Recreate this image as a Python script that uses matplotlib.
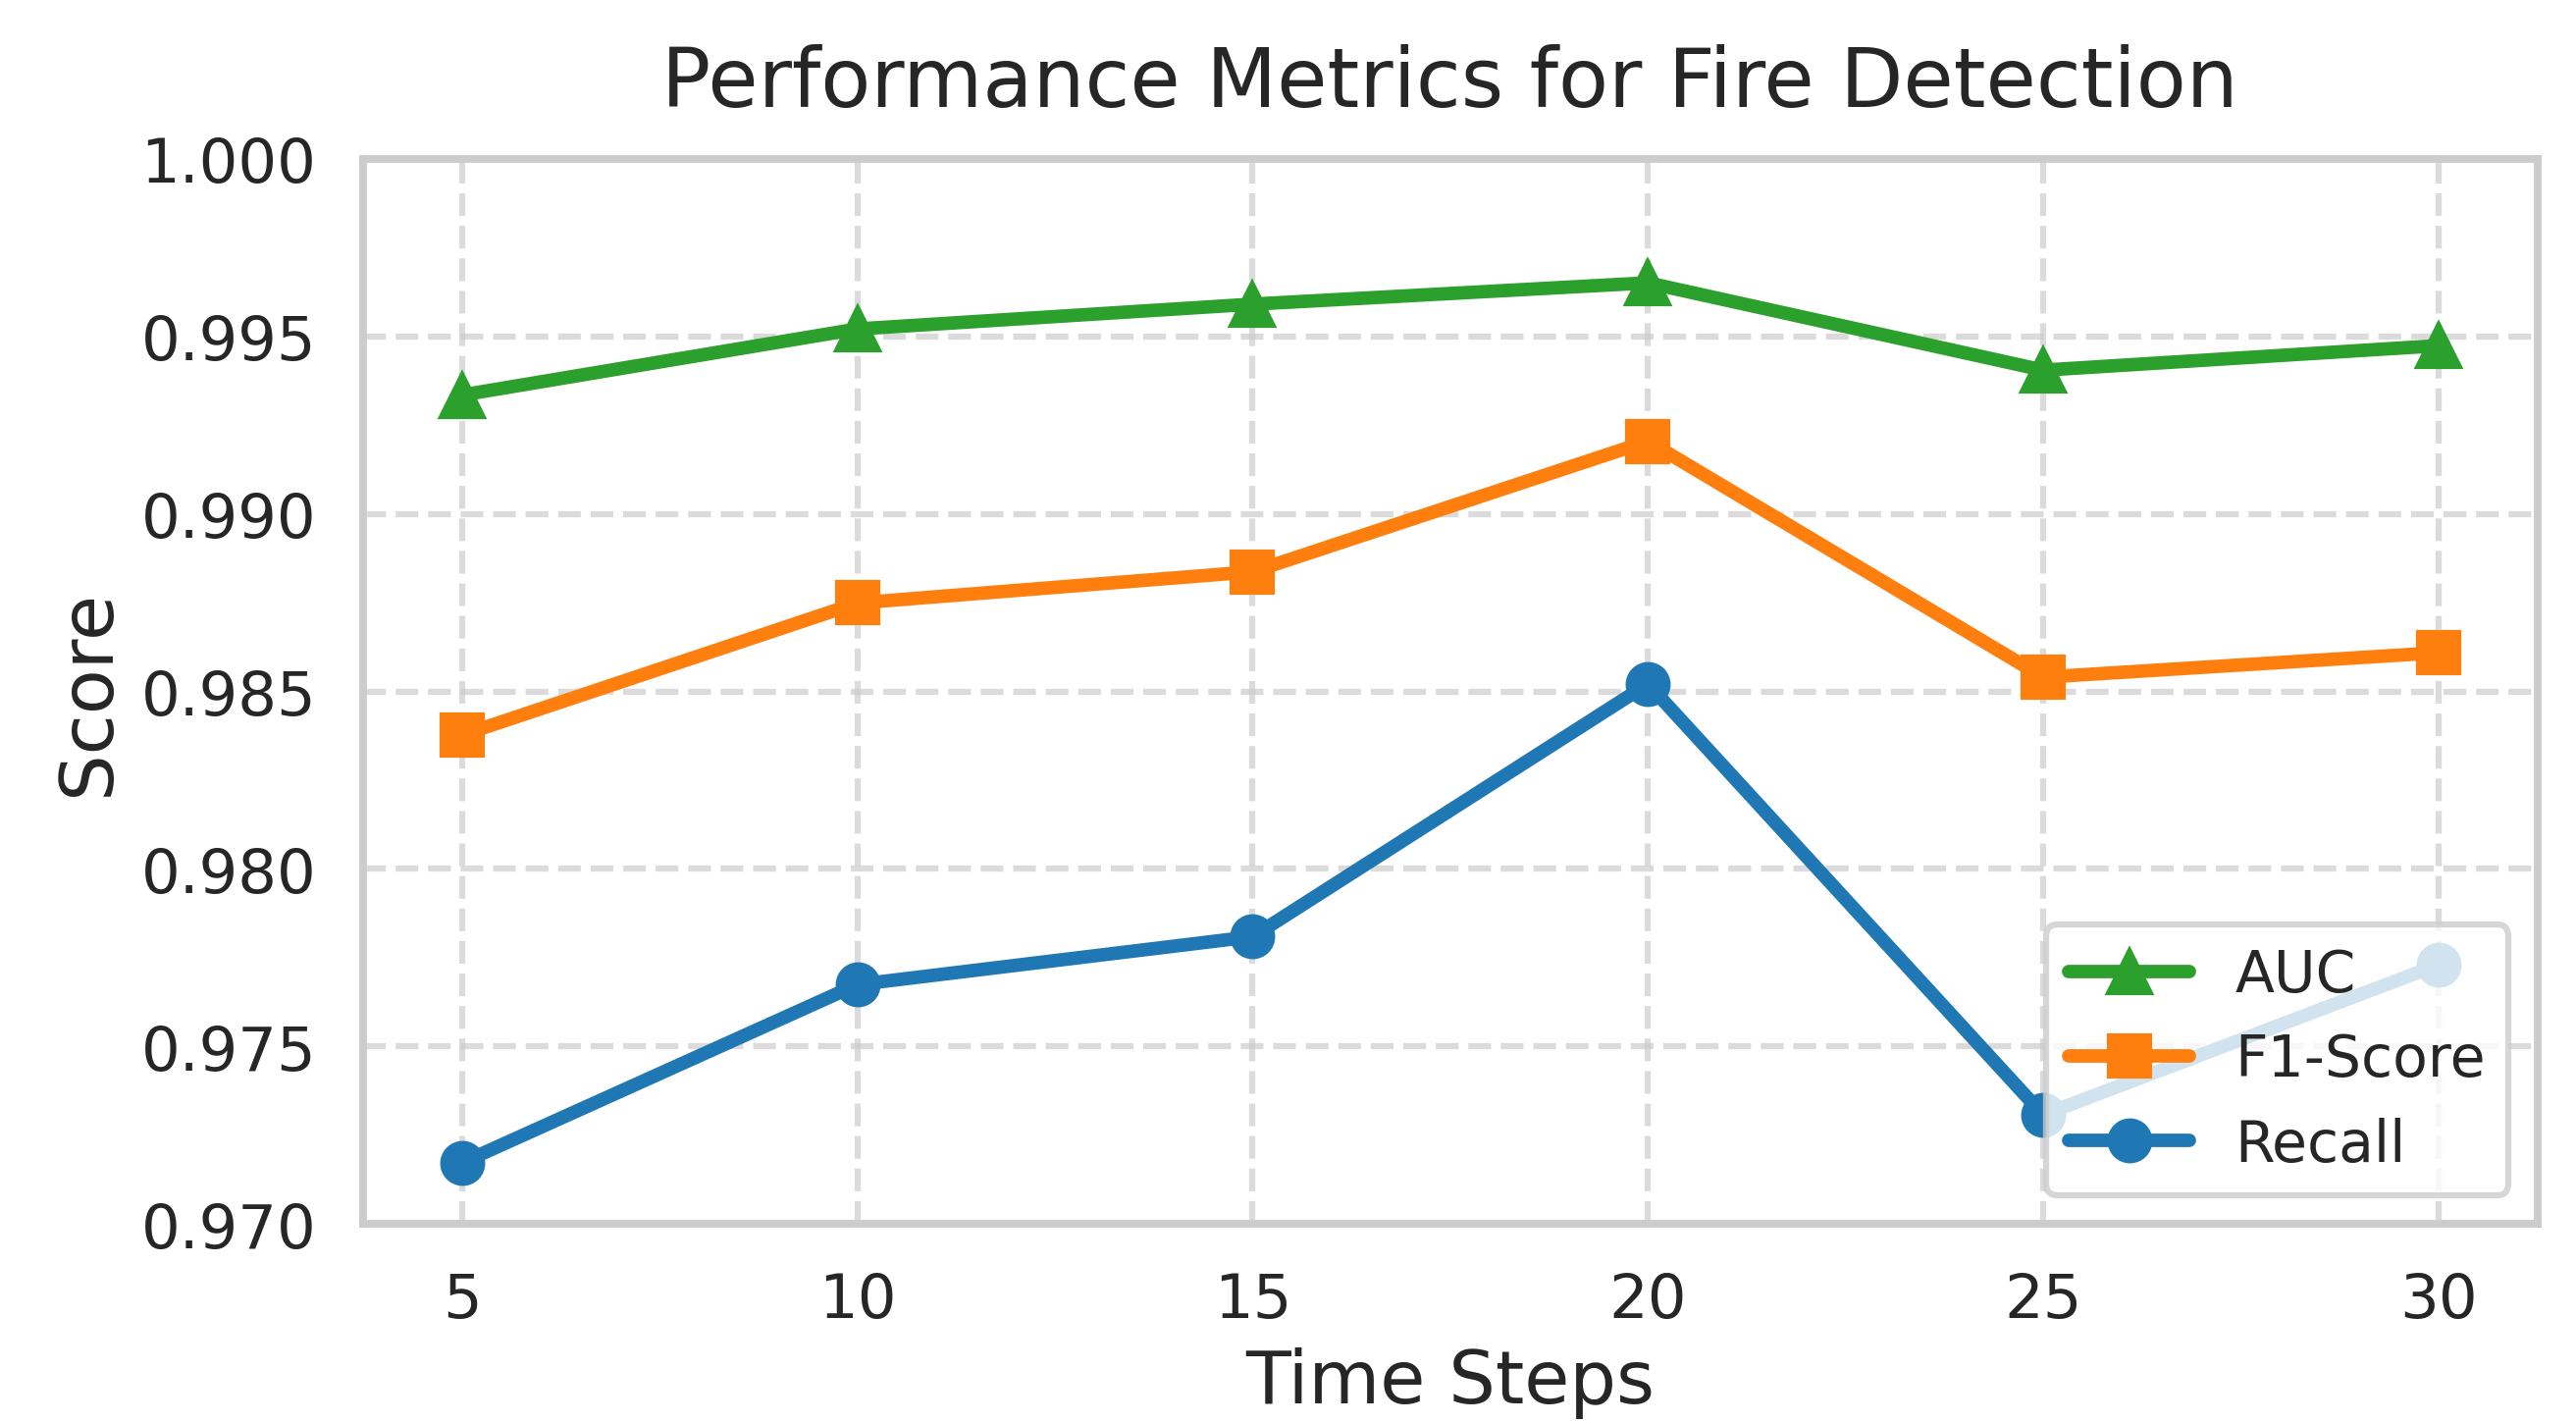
import matplotlib
matplotlib.use("Agg")
import matplotlib.pyplot as plt
import seaborn as sns

time_steps = [5, 10, 15, 20, 25, 30]
auc = [0.99335, 0.99521, 0.99591, 0.99651, 0.99405, 0.99474]
f1 = [0.98377, 0.98749, 0.98837, 0.99205, 0.98540, 0.98609]
recall = [0.97172, 0.97674, 0.97809, 0.98521, 0.97307, 0.97730]
yticks = [0.970, 0.975, 0.980, 0.985, 0.990, 0.995, 1.000]

sns.set_theme(style="whitegrid", context="talk")
plt.rcParams['font.family'] = ['DejaVu Sans']

fig = plt.figure(figsize=(8.75, 4.8333), dpi=300)
ax = fig.add_axes([0.141, 0.1393, 0.844, 0.7483])

ax.plot(time_steps, auc, marker='^', color='#2ca02c', lw=3.3, ms=10.5, label='AUC')
ax.plot(time_steps, f1, marker='s', color='#ff7f0e', lw=3.3, ms=10, label='F1-Score')
ax.plot(time_steps, recall, marker='o', color='#1f77b4', lw=3.3, ms=10, label='Recall')

ax.set_ylim(0.970, 1.000)
ax.set_yticks(yticks)
ax.set_yticklabels([f"{v:.3f}" for v in yticks])
ax.set_xticks(time_steps)
ax.tick_params(labelsize=15, pad=2.5)
ax.grid(True, linestyle='--', alpha=0.7)
ax.set_title('Performance Metrics for Fire Detection', fontsize=20, pad=13)
ax.set_xlabel('Time Steps', fontsize=18, labelpad=4)
ax.set_ylabel('Score', fontsize=18)
ax.legend(loc='lower right', fontsize=14, handlelength=2.1)

fig.savefig('out.png', dpi=300)
